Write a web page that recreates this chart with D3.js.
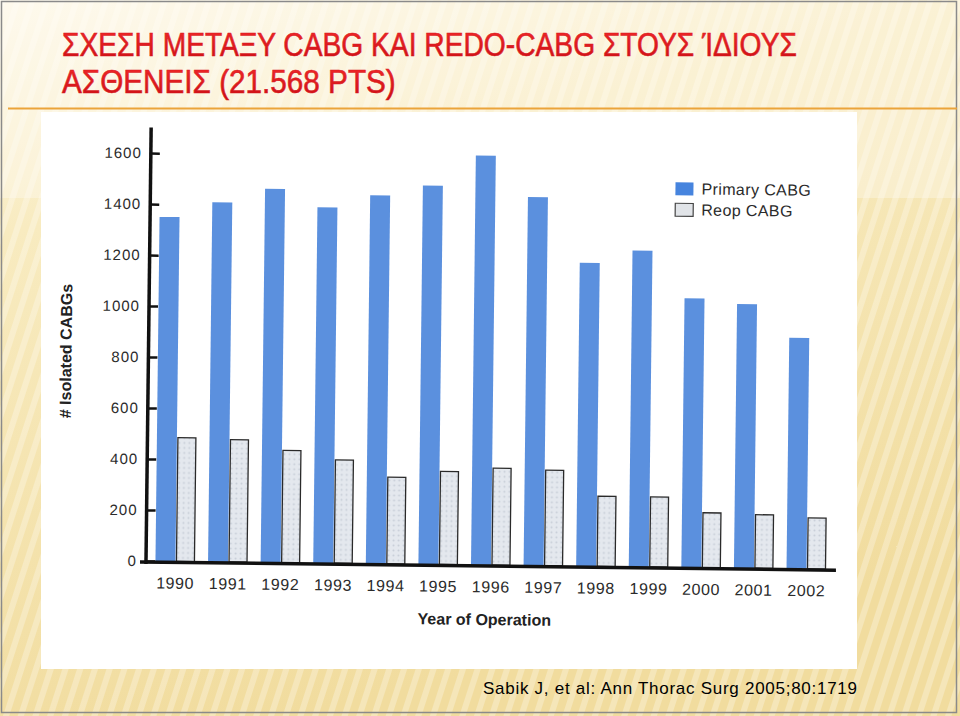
<!DOCTYPE html>
<html>
<head>
<meta charset="utf-8">
<script src="https://cdn.jsdelivr.net/npm/d3@7"></script>
<style>
  body { margin: 0; background: #fff; }
  svg { display: block; }
</style>
</head>
<body>
<svg></svg>
<script>
const years = ['1990', '1991', '1992', '1993', '1994', '1995', '1996',
  '1997', '1998', '1999', '2000', '2001', '2002'];
const primaryCabg = [1350, 1410, 1465, 1395, 1445, 1485, 1605, 1445, 1190, 1240, 1055, 1035, 905];
const reopCabg = [485, 480, 440, 405, 340, 365, 380, 375, 275, 275, 215, 210, 200];
const yTicks = [0, 200, 400, 600, 800, 1000, 1200, 1400, 1600];
const seriesNames = ['Primary CABG', 'Reop CABG'];
const titleLines = ['ΣΧΕΣΗ ΜΕΤΑΞΥ CABG ΚΑΙ REDO-CABG ΣΤΟΥΣ ΊΔΙΟΥΣ', 'ΑΣΘΕΝΕΙΣ (21.568 PTS)'];
const citation = 'Sabik J, et al: Ann Thorac Surg 2005;80:1719';

const [svgWidth, svgHeight] = [960, 716];
const svg = d3.select('svg')
  .attr('width', svgWidth)
  .attr('height', svgHeight);
const defs = svg.append('defs');

// slide background: tan with faint diagonal stripes
const bgGrad = defs.append('linearGradient')
  .attr('id', 'bg').attr('x1', 0).attr('y1', 0).attr('x2', 0.3).attr('y2', 1);
bgGrad.append('stop').attr('offset', 0).attr('stop-color', '#fdf8e8');
bgGrad.append('stop').attr('offset', 0.3).attr('stop-color', '#f8ebc0');
bgGrad.append('stop').attr('offset', 1).attr('stop-color', '#f1dc9e');

const stripes = defs.append('pattern')
  .attr('id', 'stripes')
  .attr('patternUnits', 'userSpaceOnUse')
  .attr('width', 14).attr('height', 14)
  .attr('patternTransform', 'rotate(18)');
stripes.append('rect')
  .attr('width', 6).attr('height', 14)
  .attr('fill', '#ffffff').attr('opacity', 0.28);

const titleGrad = defs.append('linearGradient')
  .attr('id', 'titleFill').attr('x1', 0).attr('y1', 0).attr('x2', 0).attr('y2', 1);
titleGrad.append('stop').attr('offset', 0).attr('stop-color', '#f42a2a');
titleGrad.append('stop').attr('offset', 1).attr('stop-color', '#c80d14');

const dots = defs.append('pattern')
  .attr('id', 'dots')
  .attr('patternUnits', 'userSpaceOnUse')
  .attr('width', 5).attr('height', 5);
dots.append('rect').attr('width', 5).attr('height', 5).attr('fill', '#e4e8ee');
dots.append('circle').attr('cx', 2.5).attr('cy', 2.5).attr('r', 1)
  .attr('fill', '#c8ced8');

svg.append('rect')
  .attr('width', svgWidth).attr('height', svgHeight)
  .attr('fill', 'url(#bg)');
svg.append('rect')
  .attr('width', svgWidth).attr('height', svgHeight)
  .attr('fill', 'url(#stripes)');
svg.append('rect')
  .attr('width', svgWidth).attr('height', 198)
  .attr('fill', '#fffdf5').attr('opacity', 0.35);
svg.append('rect')
  .attr('x', 1.5).attr('y', 1.5)
  .attr('width', 955).attr('height', 711)
  .attr('fill', 'none')
  .attr('stroke', '#8a8a8a')
  .attr('stroke-width', 1.5);

// title, condensed by scaling each line to its measured width
const titleFont = '"Liberation Sans", Arial, sans-serif';
const titleBase = [56, 93];
const titleWidth = [735, 334];
titleLines.forEach((t, i) => {
  const g = svg.append('g');
  const txt = g.append('text')
    .attr('font-family', titleFont)
    .attr('font-size', 33)
    .attr('fill', 'url(#titleFill)')
    .attr('stroke', '#d81820')
    .attr('stroke-width', 0.6)
    .text(t);
  const w = txt.node().getComputedTextLength();
  g.attr('transform', `translate(62, ${titleBase[i]}) scale(${titleWidth[i] / w}, 1)`);
});

svg.append('line')
  .attr('x1', 8).attr('x2', 957)
  .attr('y1', 108.5).attr('y2', 108.5)
  .attr('stroke', '#eba43a')
  .attr('stroke-width', 2);

// white panel of the scanned figure
svg.append('rect')
  .attr('x', 41).attr('y', 112)
  .attr('width', 816).attr('height', 557)
  .attr('fill', '#ffffff');

svg.append('text')
  .attr('x', 483).attr('y', 694)
  .attr('font-family', '"Liberation Sans", Arial, sans-serif')
  .attr('font-size', 17)
  .attr('textLength', 374)
  .attr('fill', '#000')
  .text(citation);

// chart (scan is slightly rotated)
const chartFont = '"Liberation Sans", Arial, sans-serif';
const axisX = 146;
const baseY = 561;
const chart = svg.append('g')
  .attr('transform', `rotate(0.68, ${axisX}, ${baseY})`);

const x = d3.scaleBand()
  .domain(years)
  .range([axisX, 836])
  .paddingInner(0.24)
  .paddingOuter(0.18);
const xSub = d3.scaleBand()
  .domain(seriesNames)
  .range([0, x.bandwidth()]);
const y = d3.scaleLinear()
  .domain([0, 1600])
  .range([baseY, 153]);

const rows = years.map((yr, i) => ({year: yr, values: [primaryCabg[i], reopCabg[i]]}));

const groups = chart.selectAll('g.year')
  .data(rows)
  .enter()
  .append('g')
  .attr('class', 'year')
  .attr('transform', d => `translate(${x(d.year)}, 0)`);

groups.append('rect')
  .attr('x', xSub(seriesNames[0]))
  .attr('y', d => y(d.values[0]))
  .attr('width', xSub.bandwidth())
  .attr('height', d => y(0) - y(d.values[0]))
  .attr('fill', '#5b90de');

groups.append('rect')
  .attr('x', xSub(seriesNames[1]) + 1)
  .attr('y', d => y(d.values[1]))
  .attr('width', xSub.bandwidth() - 2)
  .attr('height', d => y(0) - y(d.values[1]))
  .attr('fill', 'url(#dots)')
  .attr('stroke', '#2a2a2a')
  .attr('stroke-width', 1.3);

// y axis
const yAxis = chart.append('g')
  .attr('transform', `translate(${axisX}, 0)`)
  .call(d3.axisLeft(y).tickValues(yTicks).tickFormat(d3.format('d'))
    .tickSize(-9).tickPadding(9).tickSizeOuter(0));
yAxis.select('.domain').remove();
yAxis.selectAll('.tick line')
  .attr('stroke', '#111')
  .attr('stroke-width', 2.5);
yAxis.selectAll('.tick text')
  .attr('font-family', chartFont)
  .attr('font-size', 15)
  .attr('letter-spacing', 1)
  .attr('fill', '#2b2b2b');
yAxis.append('line')
  .attr('x1', 0).attr('x2', 0)
  .attr('y1', y(0) + 3).attr('y2', y(1700))
  .attr('stroke', '#111')
  .attr('stroke-width', 3.5);

// x axis
const xAxis = chart.append('g')
  .attr('transform', `translate(0, ${baseY + 1})`)
  .call(d3.axisBottom(x).tickSize(0).tickPadding(15));
xAxis.select('.domain').remove();
xAxis.selectAll('.tick text')
  .attr('font-family', chartFont)
  .attr('font-size', 16)
  .attr('letter-spacing', 0.6)
  .attr('fill', '#2b2b2b');
xAxis.append('line')
  .attr('x1', axisX - 6).attr('x2', 836)
  .attr('y1', 0).attr('y2', 0)
  .attr('stroke', '#111')
  .attr('stroke-width', 3.5);

chart.append('text')
  .attr('x', 485).attr('y', 621)
  .attr('text-anchor', 'middle')
  .attr('font-family', chartFont)
  .attr('font-weight', 'bold')
  .attr('font-size', 16)
  .attr('fill', '#222')
  .text('Year of Operation');

chart.append('text')
  .attr('transform', 'translate(69, 352) rotate(-90)')
  .attr('text-anchor', 'middle')
  .attr('font-family', chartFont)
  .attr('font-weight', 'bold')
  .attr('font-size', 16)
  .attr('fill', '#222')
  .text('# Isolated CABGs');

// legend
const legend = chart.append('g')
  .attr('transform', 'translate(671, 176)');
const legendItem = legend.selectAll('g')
  .data(seriesNames)
  .enter()
  .append('g')
  .attr('transform', (d, i) => `translate(0, ${i * 21})`);
legendItem.append('rect')
  .attr('width', 18).attr('height', 13)
  .attr('fill', (d, i) => i === 0 ? '#4684de' : '#e1e4e8')
  .attr('stroke', (d, i) => i === 0 ? 'none' : '#444')
  .attr('stroke-width', 1.2);
legendItem.append('text')
  .attr('x', 26).attr('y', 12)
  .attr('font-family', chartFont)
  .attr('font-size', 16)
  .attr('letter-spacing', 0.4)
  .attr('fill', '#2b2b2b')
  .text(d => d);
</script>
</body>
</html>
